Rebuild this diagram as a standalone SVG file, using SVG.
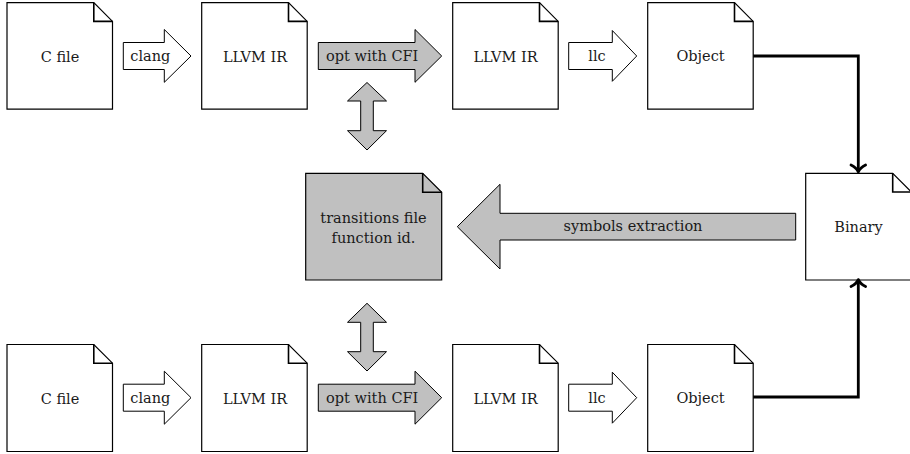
<svg xmlns="http://www.w3.org/2000/svg" width="910" height="454" viewBox="0 0 910 454">
<style>
.doc{fill:#ffffff;stroke:#000;stroke-width:1.2;stroke-linejoin:miter}
.gray{fill:#c0c0c0}
.fold{fill:none;stroke:#000;stroke-width:1.6}
.blk{fill:#ffffff;stroke:#000;stroke-width:1}
.blkg{fill:#c0c0c0;stroke:#000;stroke-width:1}
.t{font-family:'DejaVu Serif',serif;font-size:14.5px;fill:#1a1a1a;text-anchor:middle}
.conn{fill:none;stroke:#000;stroke-width:2.8;stroke-linejoin:miter}
.ah{fill:none;stroke:#000;stroke-width:2.8;stroke-linecap:round;stroke-linejoin:round}
</style>
<rect width="910" height="454" fill="#ffffff"/>

<!-- top row -->
<g id="cfile1">
<path class="doc" d="M7 2.7 H93.8 L112.5 21.4 V109.2 H7 Z"/>
<path class="fold" d="M93.8 2.7 V21.4 H112.5"/>
<text class="t" x="60" y="61.5">C file</text>
</g>
<g id="clang1">
<path class="blk" d="M123.3 42.5 H164.3 V29.5 L191 56 L164.3 82.3 V69.5 H123.3 Z"/>
<text class="t" x="150.3" y="61">clang</text>
</g>
<g id="llvmir1">
<path class="doc" d="M201.7 2.7 H288.5 L307.2 21.4 V109.2 H201.7 Z"/>
<path class="fold" d="M288.5 2.7 V21.4 H307.2"/>
<text class="t" x="255" y="61.5">LLVM IR</text>
</g>
<g id="opt1">
<path class="blkg" d="M318.3 42.5 H415 V29.5 L441.7 56 L415 82.3 V69.5 H318.3 Z"/>
<text class="t" x="372.2" y="61">opt with CFI</text>
</g>
<g id="llvmir2">
<path class="doc" d="M452.7 2.7 H539.5 L558.2 21.4 V109.2 H452.7 Z"/>
<path class="fold" d="M539.5 2.7 V21.4 H558.2"/>
<text class="t" x="505.5" y="61.5">LLVM IR</text>
</g>
<g id="llc1">
<path class="blk" d="M568.7 42.5 H612.3 V30.5 L636.7 56 L612.3 81.3 V69.5 H568.7 Z"/>
<text class="t" x="597" y="61">llc</text>
</g>
<g id="object1">
<path class="doc" d="M647.7 2.7 H734.5 L753.2 21.4 V109.2 H647.7 Z"/>
<path class="fold" d="M734.5 2.7 V21.4 H753.2"/>
<text class="t" x="700.5" y="60.5">Object</text>
</g>

<!-- vertical double arrows -->
<g id="dbl1">
<path class="blkg" d="M367 82.5 L386.5 101 H373.3 V130.7 H386.5 L367 150 L347.5 130.7 H360.7 V101 H347.5 Z"/>
</g>
<g id="dbl2">
<path class="blkg" d="M367 303.3 L386.5 322.3 H373.3 V351.7 H386.5 L367 371 L347.5 351.7 H360.7 V322.3 H347.5 Z"/>
</g>

<!-- center -->
<g id="transitions">
<path class="doc gray" d="M305.7 173.3 H422.7 L441.7 192.3 V280 H305.7 Z"/>
<path class="fold" d="M422.7 173.3 V192.3 H441.7"/>
<text class="t" x="373.5" y="223.3">transitions file</text>
<text class="t" x="373.5" y="242.7">function id.</text>
</g>
<g id="symbols">
<path class="blkg" d="M457.3 226.7 L500 184.3 V213.3 H795.7 V240 H500 V269 Z"/>
<text class="t" x="633" y="231">symbols extraction</text>
</g>
<g id="binary">
<path class="doc" d="M805.7 173.3 H892.7 L911.4 192 V280 H805.7 Z"/>
<path class="fold" d="M892.7 173.3 V192 H911.4"/>
<text class="t" x="858.5" y="231.5">Binary</text>
</g>

<!-- bottom row -->
<g id="cfile2">
<path class="doc" d="M7 344.5 H93.8 L112.5 363.2 V451.5 H7 Z"/>
<path class="fold" d="M93.8 344.5 V363.2 H112.5"/>
<text class="t" x="60" y="403.5">C file</text>
</g>
<g id="clang2">
<path class="blk" d="M123.3 384.2 H164.3 V371.2 L191 397.7 L164.3 424.2 V411.2 H123.3 Z"/>
<text class="t" x="150.3" y="403">clang</text>
</g>
<g id="llvmir3">
<path class="doc" d="M201.7 344.5 H288.5 L307.2 363.2 V451.5 H201.7 Z"/>
<path class="fold" d="M288.5 344.5 V363.2 H307.2"/>
<text class="t" x="255" y="403.5">LLVM IR</text>
</g>
<g id="opt2">
<path class="blkg" d="M318.3 384.2 H415 V371.2 L441.7 397.7 L415 424.2 V411.2 H318.3 Z"/>
<text class="t" x="372.2" y="403">opt with CFI</text>
</g>
<g id="llvmir4">
<path class="doc" d="M452.7 344.5 H539.5 L558.2 363.2 V451.5 H452.7 Z"/>
<path class="fold" d="M539.5 344.5 V363.2 H558.2"/>
<text class="t" x="505.5" y="403.5">LLVM IR</text>
</g>
<g id="llc2">
<path class="blk" d="M568.7 384.2 H612.3 V372.2 L636.7 397.7 L612.3 423.2 V411.2 H568.7 Z"/>
<text class="t" x="597" y="403">llc</text>
</g>
<g id="object2">
<path class="doc" d="M647.7 344.5 H734.5 L753.2 363.2 V451.5 H647.7 Z"/>
<path class="fold" d="M734.5 344.5 V363.2 H753.2"/>
<text class="t" x="700.5" y="403">Object</text>
</g>

<!-- connectors -->
<g id="connectors">
<path class="conn" d="M753.2 56 H858.3 V171"/>
<path class="ah" d="M851 165 Q856.3 167.5 858.3 171.8 Q860.3 167.5 865.6 165"/>
<path class="conn" d="M753.2 397 H858.3 V280.5"/>
<path class="ah" d="M851 286.5 Q856.3 284 858.3 279.6 Q860.3 284 865.6 286.5"/>
</g>
</svg>
